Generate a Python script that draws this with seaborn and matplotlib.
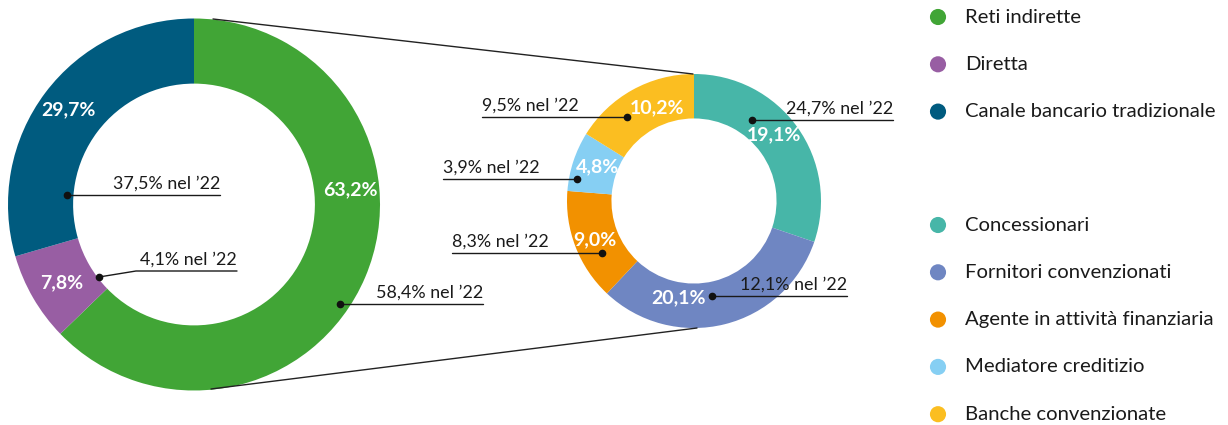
import numpy as np
import pandas as pd
import matplotlib.pyplot as plt
import seaborn as sns

# data
main_labels = ["Reti indirette", "Diretta", "Canale bancario tradizionale"]
main_share = [63.2, 7.8, 29.7]
main_share_22 = [58.4, 4.1, 37.5]
main_colors = ["#41A536", "#985EA3", "#005B7F"]

sub_labels = ["Concessionari", "Fornitori convenzionati", "Agente in attività finanziaria",
              "Mediatore creditizio", "Banche convenzionate"]
sub_share = [19.1, 20.1, 9.0, 4.8, 10.2]
sub_share_22 = [24.7, 12.1, 8.3, 3.9, 9.5]
sub_colors = ["#47B6A8", "#6F86C2", "#F29100", "#86CFF3", "#FBBE21"]


def pct(v):
    return f"{v:.1f}".replace(".", ",") + "%"


sns.set_theme(style="white")
plt.rcParams['font.family'] = ['Lato', 'DejaVu Sans']

W, H = 1228, 425
fig = plt.figure(figsize=(W / 100, H / 100), dpi=100)
ax = fig.add_axes([0, 0, 1, 1])

# donut geometry (pixel units, y pointing down)
c1, r1 = (194, 204.5), 186
c2, r2 = (694, 201), 127
ring = 0.35

ax.pie(main_share, colors=main_colors, startangle=-90, counterclock=True,
       center=c1, radius=r1, wedgeprops=dict(width=r1 * ring, linewidth=0))
ax.pie(sub_share, colors=sub_colors, startangle=-90, counterclock=True,
       center=c2, radius=r2, wedgeprops=dict(width=r2 * ring, linewidth=0))

ax.set_xlim(0, W)
ax.set_ylim(H, 0)
ax.set_aspect('equal')
ax.axis('off')

# connector lines between the two rings
ax.plot([213, 693], [19, 74], color='#222222', lw=1)
ax.plot([211, 697], [389, 328], color='#222222', lw=1)

# label layout: bold value position, dot, line end, optional kink
lbl_fs = 12.9
val_fs = 14


def callout(val_xy, value, dot, line_x, old, side, kink=None):
    ax.text(val_xy[0], val_xy[1], pct(value), color='white', fontsize=val_fs,
            fontweight='bold', ha='center', va='center')
    xs, ys = [dot[0]], [dot[1]]
    ly = dot[1]
    if kink is not None:
        xs.append(kink[0]); ys.append(kink[1])
        ly = kink[1]
    xs.append(line_x); ys.append(ly)
    ax.plot(xs, ys, color='#1a1a1a', lw=1)
    ax.plot(*dot, 'o', color='#111111', ms=4.5)
    ax.text(line_x, ly - 6, f"{pct(old)} nel ’22", fontsize=lbl_fs, color='#1a1a1a',
            ha='right' if side == 'r' else 'left', va='baseline')


main_layout = [
    dict(val_xy=(350, 190), dot=(340, 304), line_x=483, side='r'),
    dict(val_xy=(62, 283), dot=(99, 277), line_x=237, side='r', kink=(136, 271)),
    dict(val_xy=(68, 110), dot=(67, 195), line_x=220, side='r'),
]
for v, o, lay in zip(main_share, main_share_22, main_layout):
    callout(value=v, old=o, **lay)

sub_layout = [
    dict(val_xy=(774, 135), dot=(752, 120), line_x=893, side='r'),
    dict(val_xy=(678, 298), dot=(712, 296), line_x=847, side='r'),
    dict(val_xy=(595, 240), dot=(602, 253), line_x=452, side='l'),
    dict(val_xy=(597, 167), dot=(577, 179), line_x=443, side='l'),
    dict(val_xy=(657, 108), dot=(627, 117), line_x=482, side='l'),
]
for v, o, lay in zip(sub_share, sub_share_22, sub_layout):
    callout(value=v, old=o, **lay)

# legend built by hand: dots + labels
step = 47.3
leg = pd.DataFrame({
    'label': main_labels + sub_labels,
    'y': [17 + i * step for i in range(3)] + [225 + i * step for i in range(5)],
})
leg['x'] = 938
palette = dict(zip(main_labels + sub_labels, main_colors + sub_colors))
sns.scatterplot(data=leg, x='x', y='y', hue='label', palette=palette, s=135,
                linewidth=0, legend=False, ax=ax)
for _, row in leg.iterrows():
    ax.text(965, row['y'], row['label'], fontsize=14.6, color='#1a1a1a',
            ha='left', va='center')

ax.set_xlim(0, W)
ax.set_ylim(H, 0)
ax.axis('off')

fig.savefig('out.png', dpi=100)
